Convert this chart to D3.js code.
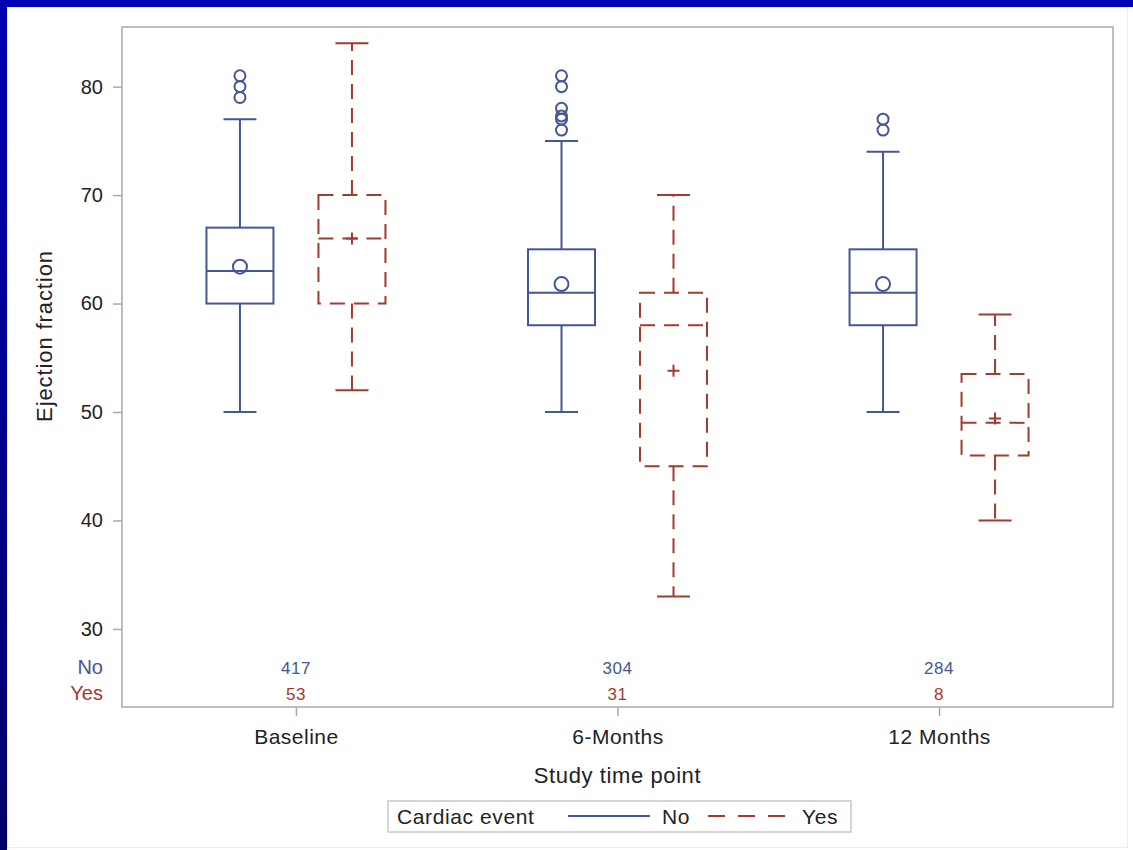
<!DOCTYPE html>
<html>
<head>
<meta charset="utf-8">
<script src="https://cdn.jsdelivr.net/npm/d3@7"></script>
<style>
  body { margin: 0; background: #fff; }
  svg { display: block; font-family: "Liberation Sans", Arial, sans-serif; }
</style>
</head>
<body>
<svg id="chart"></svg>
<script>
// data
var timePoints = ["Baseline", "6-Months", "12 Months"];
var groups = ["No", "Yes"];
var yTicks = [30, 40, 50, 60, 70, 80];

var noMin = [50, 50, 50];
var noQ1 = [60, 58, 58];
var noMedian = [63, 61, 61];
var noQ3 = [67, 65, 65];
var noMax = [77, 75, 74];
var noMean = [63.4, 61.8, 61.8];
var noOutliers = [[79, 80, 81], [76, 77, 77.3, 78, 80, 81], [76, 77]];
var noCounts = [417, 304, 284];

var yesMin = [52, 33, 40];
var yesQ1 = [60, 45, 46];
var yesMedian = [66, 58, 49];
var yesQ3 = [70, 61, 53.5];
var yesMax = [84, 70, 59];
var yesMean = [66, 53.8, 49.4];
var yesOutliers = [[], [], []];
var yesCounts = [53, 31, 8];

var width = 1133, height = 850;
var plot = { left: 122, right: 1113, top: 27, bottom: 707 };
var colors = { No: "#445694", Yes: "#A23A2E" };
var dash = { No: null, Yes: "15,9" };
var textColor = "#222222";

var svg = d3.select("#chart")
    .attr("width", width)
    .attr("height", height);

// slide frame
var defs = svg.append("defs");
var grad = defs.append("linearGradient")
    .attr("id", "sideBlue")
    .attr("x1", 0).attr("y1", 0).attr("x2", 0).attr("y2", 1);
grad.append("stop").attr("offset", "0%").attr("stop-color", "#0000b4");
grad.append("stop").attr("offset", "100%").attr("stop-color", "#00006a");

svg.append("rect")
    .attr("width", width).attr("height", height)
    .attr("fill", "#ffffff");
svg.append("rect")
    .attr("x", 0).attr("y", 0).attr("width", 7).attr("height", height)
    .attr("fill", "url(#sideBlue)");
svg.append("rect")
    .attr("x", 0).attr("y", 0).attr("width", width).attr("height", 7)
    .attr("fill", "#0000b4");
svg.append("rect")
    .attr("x", 7.5).attr("y", 7.5).attr("width", 1120).attr("height", 840)
    .attr("fill", "none")
    .attr("stroke", "#ececec");

// scales
var xScale =
  d3.scalePoint()
    .domain(timePoints)
    .range([plot.left, plot.right])
    .padding(0.541);

var groupScale =
  d3.scalePoint()
    .domain(groups)
    .range([-56, 56]);

var yScale =
  d3.scaleLinear()
    .domain([22.8, 85.5])
    .range([plot.bottom, plot.top]);

var boxWidth = 67;
var capWidth = 33;

// frame
svg.append("rect")
    .attr("x", plot.left).attr("y", plot.top)
    .attr("width", plot.right - plot.left)
    .attr("height", plot.bottom - plot.top)
    .attr("fill", "none")
    .attr("stroke", "#a8a8a8")
    .attr("stroke-width", 1.5);

// y axis
var yAxis = svg.append("g")
    .attr("transform", `translate(${plot.left}, 0)`)
    .call(
      d3.axisLeft(yScale)
        .tickValues(yTicks)
        .tickSize(9)
        .tickPadding(10)
    );
yAxis.select(".domain").remove();
yAxis.selectAll(".tick line").attr("stroke", "#a8a8a8").attr("stroke-width", 1.5);
yAxis.selectAll(".tick text")
    .attr("fill", textColor)
    .style("font-size", "20px")
    .style("font-family", "'Liberation Sans', Arial, sans-serif");

// x axis
var xAxis = svg.append("g")
    .attr("transform", `translate(0, ${plot.bottom})`)
    .call(
      d3.axisBottom(xScale)
        .tickSize(9)
        .tickPadding(13)
    );
xAxis.select(".domain").remove();
xAxis.selectAll(".tick line").attr("stroke", "#a8a8a8").attr("stroke-width", 1.5);
xAxis.selectAll(".tick text")
    .attr("fill", textColor)
    .style("font-size", "21px")
    .style("letter-spacing", "0.5px")
    .style("font-family", "'Liberation Sans', Arial, sans-serif");

// axis labels
svg.append("text")
    .text("Ejection fraction")
    .attr("transform", "rotate(-90)")
    .attr("x", -336)
    .attr("y", 52)
    .attr("text-anchor", "middle")
    .attr("fill", textColor)
    .style("font-size", "22px")
    .style("letter-spacing", "0.9px");

svg.append("text")
    .text("Study time point")
    .attr("x", xScale(timePoints[1]))
    .attr("y", 783)
    .attr("text-anchor", "middle")
    .attr("fill", textColor)
    .style("font-size", "22px")
    .style("letter-spacing", "0.6px");

// build box records
var stats = {
  No: { min: noMin, q1: noQ1, med: noMedian, q3: noQ3, max: noMax, mean: noMean, out: noOutliers, n: noCounts },
  Yes: { min: yesMin, q1: yesQ1, med: yesMedian, q3: yesQ3, max: yesMax, mean: yesMean, out: yesOutliers, n: yesCounts }
};

var boxes = [];
groups.forEach(g => {
  timePoints.forEach((t, i) => {
    boxes.push({
      group: g, time: t,
      min: stats[g].min[i], q1: stats[g].q1[i], med: stats[g].med[i],
      q3: stats[g].q3[i], max: stats[g].max[i], mean: stats[g].mean[i],
      out: stats[g].out[i]
    });
  });
});

var boxG = svg.append("g")
  .selectAll("g")
  .data(boxes)
  .enter()
  .append("g")
    .attr("transform", d => `translate(${xScale(d.time) + groupScale(d.group)}, 0)`)
    .attr("stroke", d => colors[d.group])
    .attr("stroke-width", 2)
    .attr("fill", "none");

// whiskers
boxG.append("line")
    .attr("x1", 0).attr("x2", 0)
    .attr("y1", d => yScale(d.q3)).attr("y2", d => yScale(d.max))
    .attr("stroke-dasharray", d => dash[d.group]);
boxG.append("line")
    .attr("x1", 0).attr("x2", 0)
    .attr("y1", d => yScale(d.q1)).attr("y2", d => yScale(d.min))
    .attr("stroke-dasharray", d => dash[d.group]);
boxG.append("line")
    .attr("x1", -capWidth / 2).attr("x2", capWidth / 2)
    .attr("y1", d => yScale(d.max)).attr("y2", d => yScale(d.max));
boxG.append("line")
    .attr("x1", -capWidth / 2).attr("x2", capWidth / 2)
    .attr("y1", d => yScale(d.min)).attr("y2", d => yScale(d.min));

// box and median
boxG.append("rect")
    .attr("x", -boxWidth / 2)
    .attr("width", boxWidth)
    .attr("y", d => yScale(d.q3))
    .attr("height", d => yScale(d.q1) - yScale(d.q3))
    .attr("stroke-dasharray", d => dash[d.group]);
boxG.append("line")
    .attr("x1", -boxWidth / 2).attr("x2", boxWidth / 2)
    .attr("y1", d => yScale(d.med)).attr("y2", d => yScale(d.med))
    .attr("stroke-dasharray", d => dash[d.group]);

// mean markers
boxG.filter(d => d.group === "No")
  .append("circle")
    .attr("cx", 0)
    .attr("cy", d => yScale(d.mean))
    .attr("r", 7);
boxG.filter(d => d.group === "Yes")
  .append("path")
    .attr("d", d => {
      var cy = yScale(d.mean);
      return `M-6,${cy}H6M0,${cy - 6}V${cy + 6}`;
    });

// outliers
boxG.selectAll(".outlier")
  .data(d => d.out)
  .enter()
  .append("circle")
    .classed("outlier", true)
    .attr("cx", 0)
    .attr("cy", v => yScale(v))
    .attr("r", 5.5);

// count table inside the plot
var rowY = { No: 674, Yes: 700 };
groups.forEach(g => {
  svg.append("text")
      .text(g)
      .attr("x", 103)
      .attr("y", rowY[g])
      .attr("text-anchor", "end")
      .attr("fill", colors[g])
      .style("font-size", "20px");

  svg.append("g")
    .selectAll("text")
    .data(stats[g].n)
    .enter()
    .append("text")
      .text(d => d)
      .attr("x", (d, i) => xScale(timePoints[i]))
      .attr("y", rowY[g])
      .attr("text-anchor", "middle")
      .attr("fill", colors[g])
      .style("font-size", "17px")
      .style("letter-spacing", "0.5px");
});

// legend
var legend = svg.append("g");
legend.append("rect")
    .attr("x", 388).attr("y", 801)
    .attr("width", 463).attr("height", 31)
    .attr("fill", "#fff")
    .attr("stroke", "#c8c8c8")
    .attr("stroke-width", 1.5);
legend.append("text")
    .text("Cardiac event")
    .attr("x", 397).attr("y", 824)
    .attr("fill", textColor)
    .style("font-size", "21px")
    .style("letter-spacing", "0.6px");

var legendItems = [
  { group: "No", x1: 568, x2: 650, tx: 662 },
  { group: "Yes", x1: 708, x2: 786, tx: 802 }
];
legend.selectAll(".item-line")
  .data(legendItems)
  .enter()
  .append("line")
    .attr("x1", d => d.x1).attr("x2", d => d.x2)
    .attr("y1", 816).attr("y2", 816)
    .attr("stroke", d => colors[d.group])
    .attr("stroke-width", 2)
    .attr("stroke-dasharray", d => d.group === "Yes" ? "17,13" : null);
legend.selectAll(".item-text")
  .data(legendItems)
  .enter()
  .append("text")
    .text(d => d.group)
    .attr("x", d => d.tx).attr("y", 824)
    .attr("fill", textColor)
    .style("font-size", "21px")
    .style("letter-spacing", "0.6px");
</script>
</body>
</html>
